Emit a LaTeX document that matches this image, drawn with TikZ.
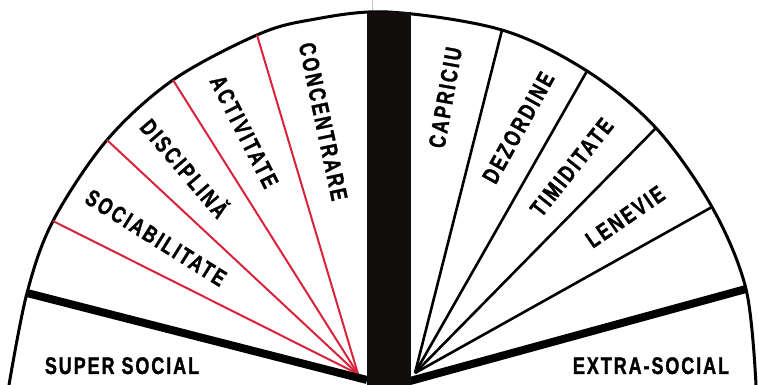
\documentclass[tikz,border=0pt]{standalone}
\usepackage{fontspec}
\newfontfamily\radfont[FakeStretch=0.75,LetterSpace=10,FakeBold=1.3]{Liberation Sans Bold}
\newfontfamily\basefont[FakeStretch=0.75,LetterSpace=8,FakeBold=1.3]{Liberation Sans Bold}
\definecolor{rayred}{RGB}{218,34,58}
\definecolor{barblack}{RGB}{18,14,14}
\tikzset{
  arcline/.style={line width=3pt, black},
  redray/.style={line width=2pt, rayred},
  blackray/.style={line width=2.6pt, black},
  thickray/.style={line width=8pt, black},
  radlabel/.style={font=\radfont\fontsize{23.5}{25}\selectfont, text height=16.8pt, text depth=0pt, inner sep=0pt, anchor=center},
  baselabel/.style={font=\basefont\fontsize{24}{26}\selectfont, inner sep=0pt, anchor=base}
}
\begin{document}
\begin{tikzpicture}[x=1pt,y=1pt]
\useasboundingbox (0,0) rectangle (758,385);
% points on the arc
\coordinate (e0) at (9,0);
\coordinate (t1) at (27,92);
\coordinate (r1) at (53,164);
\coordinate (r2) at (107,245);
\coordinate (r3) at (173,305);
\coordinate (r4) at (257,350);
\coordinate (p1) at (310,365);
\coordinate (top) at (388,373);
\coordinate (b1) at (502,355);
\coordinate (b2) at (587,314);
\coordinate (b3) at (656,257);
\coordinate (b4) at (712,178);
\coordinate (t2) at (746,96);
\coordinate (e1) at (756,0);
% convergence points
\coordinate (L) at (358,11);
\coordinate (R) at (415,12);
\coordinate (tl) at (367,5);
\coordinate (tr) at (410,4);
% faint fold line
\draw[line width=0.8pt, color=gray!45] (372,385) -- (372,372);
% arc
\draw[arcline] plot[smooth, tension=0.55] coordinates {(e0) (t1) (r1) (r2) (r3) (r4) (p1) (top) (b1) (b2) (b3) (b4) (t2) (e1)};
% red rays
\foreach \p in {r1,r2,r3,r4} \draw[redray] (\p) -- (L);
% black rays
\foreach \p in {b1,b2,b3,b4} \draw[blackray] (\p) -- (R);
% thick rays
\draw[thickray] (t1) -- (tl);
\draw[thickray] (t2) -- (tr);
% central bar
\fill[barblack] (366.5,0) rectangle (410.5,373);
% labels
\node[radlabel, rotate=-78] (concentrare) at (323.5,263.5) {CONCENTRARE};
\node[radlabel, rotate=-63] (activitate) at (244.5,253.5) {ACTIVITATE};
\node[radlabel, rotate=-49.5] (disciplina) at (184.5,216.5) {DISCIPLINĂ};
\node[radlabel, rotate=-32] (sociabilitate) at (156,147.5) {SOCIABILITATE};
\node[radlabel, rotate=80] (capriciu) at (445,287.5) {CAPRICIU};
\node[radlabel, rotate=61] (dezordine) at (518,257.5) {DEZORDINE};
\node[radlabel, rotate=51.5] (timiditate) at (571.5,218) {TIMIDITATE};
\node[radlabel, rotate=34.5] (lenevie) at (625,168.5) {LENEVIE};
\node[baselabel] (super) at (122,11) {SUPER SOCIAL};
\node[baselabel] (extra) at (651,11) {EXTRA-SOCIAL};
\end{tikzpicture}
\end{document}
